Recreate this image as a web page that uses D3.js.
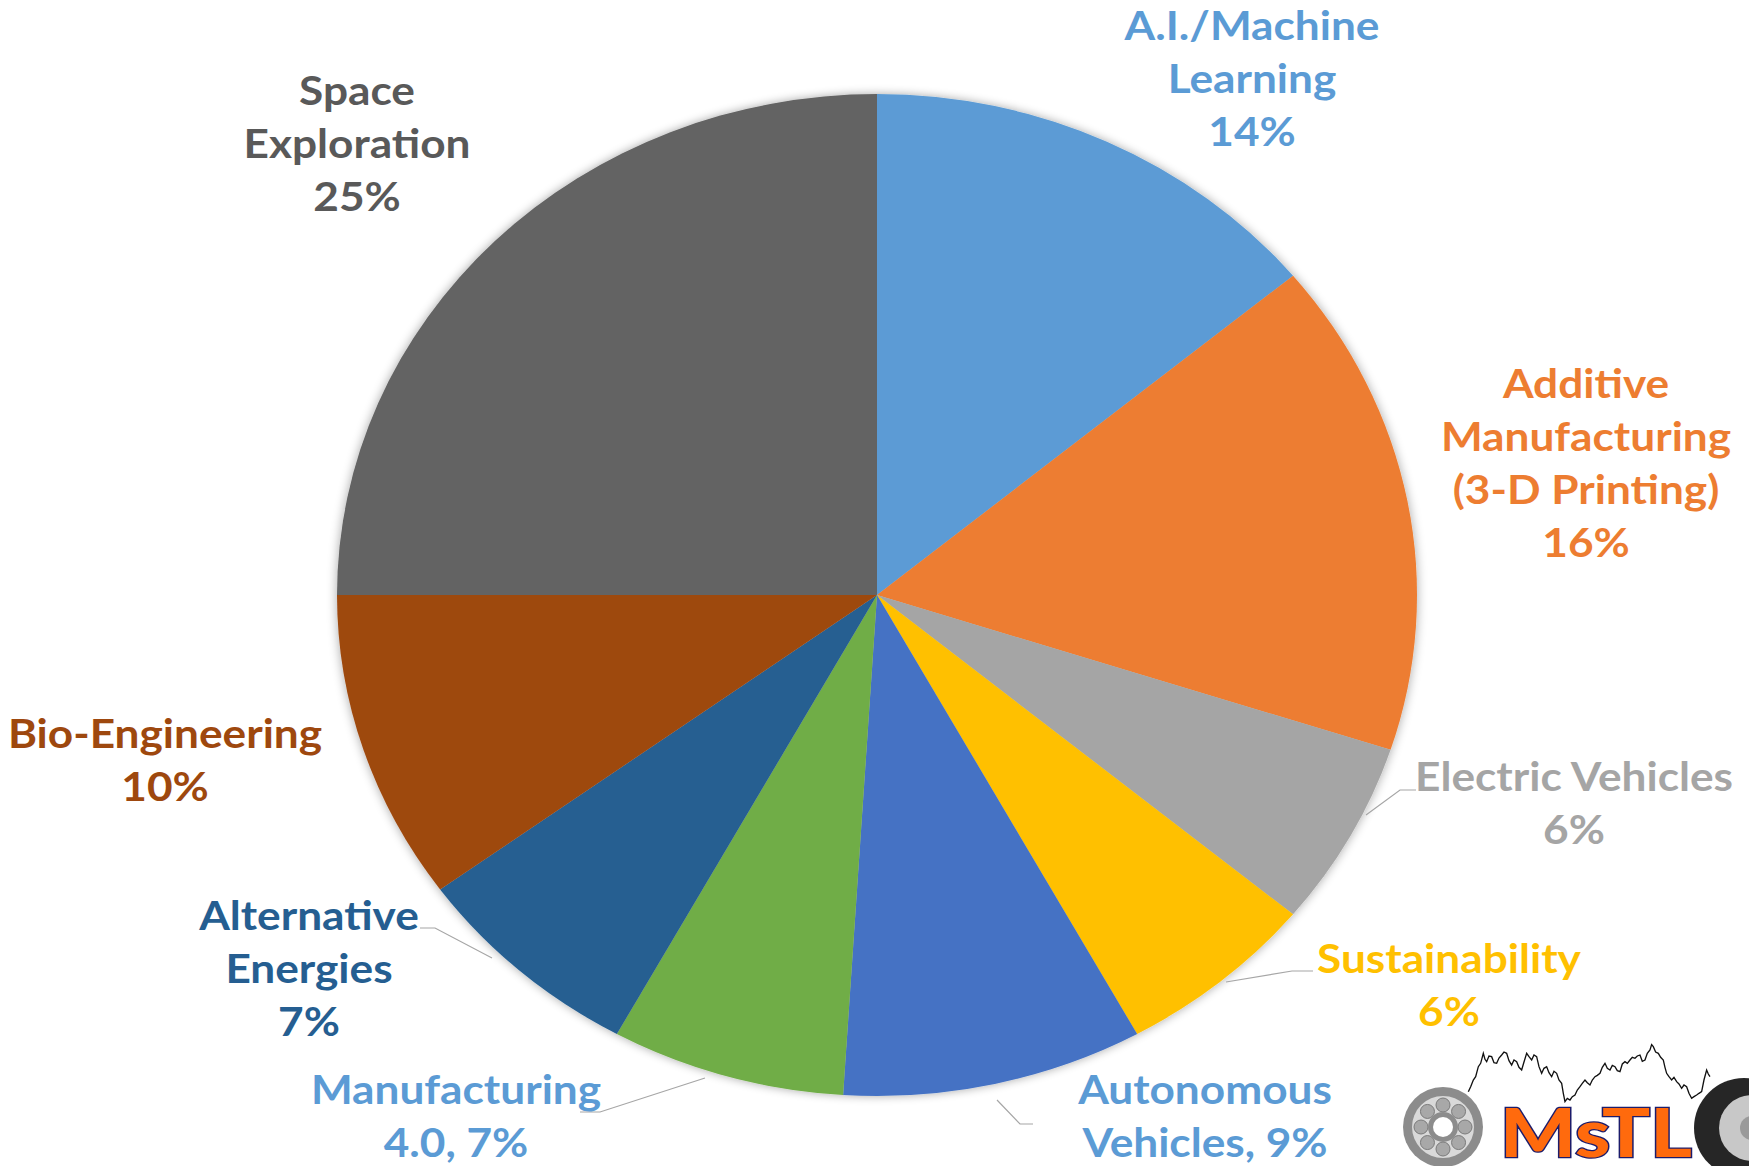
<!DOCTYPE html>
<html>
<head>
<meta charset="utf-8">
<script src="https://cdn.jsdelivr.net/npm/d3@7"></script>
<style>
  html, body { margin: 0; padding: 0; background: #ffffff; }
  svg { display: block; }
</style>
</head>
<body>
<svg id="chart" width="1749" height="1166"></svg>
<script>
// Share of topics, clockwise from 12 o'clock
const categories = [
  "A.I./Machine Learning",
  "Additive Manufacturing (3-D Printing)",
  "Electric Vehicles",
  "Sustainability",
  "Autonomous Vehicles",
  "Manufacturing 4.0",
  "Alternative Energies",
  "Bio-Engineering",
  "Space Exploration"
];
const values = [14, 16, 6, 6, 9, 7, 7, 10, 25];

// How each label is broken into lines; the percentage is appended
// either on its own line ("line") or after a comma ("inline").
const labelLines = [
  ["A.I./Machine", "Learning"],
  ["Additive", "Manufacturing", "(3-D Printing)"],
  ["Electric Vehicles"],
  ["Sustainability"],
  ["Autonomous", "Vehicles"],
  ["Manufacturing", "4.0"],
  ["Alternative", "Energies"],
  ["Bio-Engineering"],
  ["Space", "Exploration"]
];
const pctPlacement = ["line", "line", "line", "line", "inline", "inline", "line", "line", "line"];

const sliceColors = ["#5B9BD5", "#ED7D31", "#A5A5A5", "#FFC000", "#4472C4",
                     "#70AD47", "#255E91", "#9E480E", "#636363"];
const labelColors = ["#5B9BD5", "#ED7D31", "#A5A5A5", "#FFC000", "#5B9BD5",
                     "#5B9BD5", "#255E91", "#9E480E", "#595959"];

// Layout
const cx = 877, cy = 595;
const ry = 501, rx = 540;           // the pie is drawn slightly wide
const sx = rx / ry;
const fontSize = 41, lineH = 53;

// label anchor: centre x, first baseline y
const labelPos = [
  [1252, 40], [1586, 398], [1574, 791], [1449, 973], [1205, 1104],
  [456, 1104], [309, 930], [165, 748], [357, 105]
];
// leader lines for the outside labels (null = none)
const leaders = [
  null, null,
  [[1366, 815], [1400, 790], [1416, 790]],
  [[1226, 982], [1292, 971], [1313, 971]],
  [[997, 1100], [1020, 1124], [1033, 1124]],
  [[705, 1078], [600, 1112], [580, 1112]],
  [[492, 958], [435, 928], [420, 928]],
  null, null
];

const svg = d3.select("#chart");

const defs = svg.append("defs");
const shadow = defs.append("filter").attr("id", "soft")
  .attr("x", "-10%").attr("y", "-10%").attr("width", "120%").attr("height", "120%");
shadow.append("feGaussianBlur").attr("in", "SourceAlpha").attr("stdDeviation", 5);
shadow.append("feOffset").attr("dx", 0).attr("dy", 0).attr("result", "b");
shadow.append("feComponentTransfer").append("feFuncA").attr("type", "linear").attr("slope", 0.35);
const merge = shadow.append("feMerge");
merge.append("feMergeNode");
merge.append("feMergeNode").attr("in", "SourceGraphic");

const pie = d3.pie().sort(null).value(d => d);
const arcs = pie(values);
const arc = d3.arc().innerRadius(0).outerRadius(ry);

const pieG = svg.append("g")
  .attr("transform", `translate(${cx},${cy}) scale(${sx},1)`)
  .attr("filter", "url(#soft)");

pieG.selectAll("path.slice")
  .data(arcs)
  .join("path")
  .attr("class", "slice")
  .attr("d", arc)
  .attr("fill", (d, i) => sliceColors[i]);

// leader lines
svg.append("g").selectAll("polyline")
  .data(leaders.filter(l => l))
  .join("polyline")
  .attr("points", d => d.map(p => p.join(",")).join(" "))
  .attr("fill", "none")
  .attr("stroke", "#a6a6a6")
  .attr("stroke-width", 1.2);

// labels
const labelG = svg.append("g")
  .attr("font-family", "Lato, 'Open Sans', sans-serif")
  .attr("font-weight", 700)
  .attr("font-size", fontSize);

categories.forEach((c, i) => {
  const lines = labelLines[i].slice();
  const pct = values[i] + "%";
  if (pctPlacement[i] === "inline") lines[lines.length - 1] += ", " + pct;
  else lines.push(pct);
  const [x, y] = labelPos[i];
  const t = labelG.append("text")
    .attr("transform", `translate(${x},${y}) scale(${sx},1)`)
    .attr("text-anchor", "middle")
    .attr("fill", labelColors[i]);
  lines.forEach((ln, k) => {
    t.append("tspan").attr("x", 0).attr("y", k * lineH).text(ln);
  });
});

// MSTL badge in the lower right corner
const logo = svg.append("g");
// bearing
const bx = 1443, by = 1127;
logo.append("circle").attr("cx", bx).attr("cy", by).attr("r", 40).attr("fill", "#8c8c8c");
logo.append("circle").attr("cx", bx).attr("cy", by).attr("r", 31).attr("fill", "#d9d9d9");
d3.range(8).forEach(k => {
  const a = k * Math.PI / 4;
  logo.append("circle")
    .attr("cx", bx + 22 * Math.cos(a)).attr("cy", by + 22 * Math.sin(a))
    .attr("r", 7).attr("fill", "#a8a8a8").attr("stroke", "#7a7a7a").attr("stroke-width", 1);
});
logo.append("circle").attr("cx", bx).attr("cy", by).attr("r", 15).attr("fill", "#8c8c8c");
logo.append("circle").attr("cx", bx).attr("cy", by).attr("r", 10).attr("fill", "#ffffff");
// tyre
logo.append("circle").attr("cx", 1744).attr("cy", 1128).attr("r", 50).attr("fill", "#262626");
logo.append("circle").attr("cx", 1752).attr("cy", 1128).attr("r", 33).attr("fill", "#c8c8c8");
logo.append("circle").attr("cx", 1752).attr("cy", 1128).attr("r", 12).attr("fill", "#9a9a9a");
// price trace
const trace = "M265,185 L272,170 L280,150 L287,140 L295,110 L302,100 L310,70 L315,88 L320,95 L327,78 L335,80 L342,98 L350,100 L357,84 L365,75 L372,66 L380,70 L387,92 L395,105 L402,90 L410,95 L417,112 L425,120 L432,96 L440,70 L447,80 L455,90 L462,75 L470,80 L477,110 L485,130 L492,115 L500,110 L507,128 L515,140 L522,124 L530,130 L537,150 L545,160 L550,190 L555,215 L562,205 L570,210 L577,200 L585,195 L592,180 L600,170 L607,160 L615,150 L622,158 L630,165 L637,150 L645,140 L652,136 L660,130 L667,112 L675,100 L682,115 L690,120 L697,106 L705,110 L712,122 L720,125 L727,102 L735,95 L742,100 L750,90 L757,82 L765,85 L772,78 L780,75 L787,94 L795,90 L802,70 L810,60 L815,44 L820,50 L827,66 L835,70 L842,82 L850,90 L855,112 L860,130 L867,140 L875,150 L882,142 L890,155 L897,162 L905,175 L912,165 L920,170 L927,190 L935,205 L942,200 L950,195 L957,190 L965,185 L972,150 L980,120 L985,132 L990,140";
logo.append("path")
  .attr("transform", "translate(1380,1030) scale(0.3333)")
  .attr("d", trace)
  .attr("fill", "none")
  .attr("stroke", "#111111")
  .attr("stroke-width", 4);
logo.append("text")
  .attr("x", 1500).attr("y", 1157)
  .attr("textLength", 192).attr("lengthAdjust", "spacingAndGlyphs")
  .attr("font-family", "Lato, sans-serif").attr("font-weight", 900)
  .attr("font-size", 66)
  .attr("fill", "#ff6a0d").attr("stroke", "#1c1c6b").attr("stroke-width", 2.5)
  .attr("paint-order", "stroke")
  .text("MsTL");
</script>
</body>
</html>
